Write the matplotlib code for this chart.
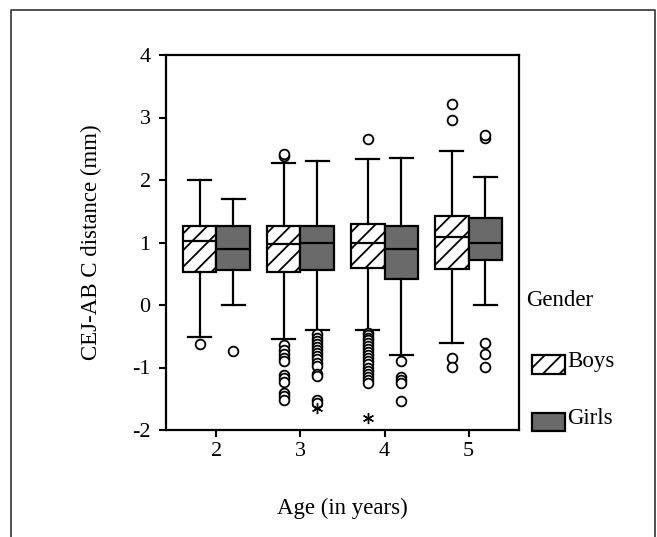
import numpy as np
import matplotlib
matplotlib.use("Agg")
from matplotlib import pyplot as plt
from matplotlib.patches import Rectangle
from matplotlib.lines import Line2D

plt.rcParams['font.family'] = ['Liberation Serif', 'DejaVu Serif']
plt.rcParams['hatch.linewidth'] = 1.3

ages = ['2', '3', '4', '5']

# boys boxes (mm)
boys_q1 = [0.53, 0.53, 0.60, 0.58]
boys_med = [1.03, 0.97, 1.00, 1.09]
boys_q3 = [1.26, 1.26, 1.29, 1.43]
boys_lo = [-0.51, -0.54, -0.40, -0.61]
boys_hi = [2.00, 2.28, 2.33, 2.46]
boys_out = [
    [-0.62],
    [2.38, 2.42, -0.64, -0.72, -0.78, -0.84, -0.90, -1.12, -1.17, -1.23, -1.40, -1.46, -1.52],
    [2.66, -0.44, -0.48, -0.52, -0.56, -0.60, -0.65, -0.70, -0.75, -0.80, -0.85, -0.90,
     -0.95, -1.00, -1.05, -1.10, -1.15, -1.20, -1.25],
    [3.21, 2.96, -0.84, -0.99],
]
boys_ext = [[], [], [-1.81], []]

# girls boxes (mm)
girls_q1 = [0.56, 0.56, 0.42, 0.72]
girls_med = [0.90, 1.00, 0.90, 1.00]
girls_q3 = [1.26, 1.26, 1.26, 1.39]
girls_lo = [0.00, -0.40, -0.80, 0.00]
girls_hi = [1.70, 2.30, 2.36, 2.05]
girls_out = [
    [-0.73],
    [-0.47, -0.52, -0.57, -0.62, -0.67, -0.72, -0.77, -0.82, -0.87, -0.92, -0.97,
     -1.10, -1.13, -1.52, -1.56],
    [-0.90, -1.15, -1.20, -1.25, -1.54],
    [2.68, 2.72, -0.60, -0.78, -0.99],
]
girls_ext = [[], [-1.65], [], []]


def make_stats(q1, med, q3, lo, hi, out):
    st = []
    for i in range(len(q1)):
        st.append({'q1': q1[i], 'med': med[i], 'q3': q3[i], 'whislo': lo[i],
                   'whishi': hi[i], 'fliers': out[i]})
    return st


fig = plt.figure(figsize=(6.57, 5.37), dpi=100)
ax = fig.add_axes([166/657, 1-430/537, (519-166)/657, (430-55)/537])

x = np.arange(len(ages))
w = 0.4
flier = dict(marker='o', markersize=7, markerfacecolor='white',
             markeredgecolor='black', markeredgewidth=1.3, linestyle='none')
lines = dict(color='black', linewidth=1.6)

ax.bxp(make_stats(boys_q1, boys_med, boys_q3, boys_lo, boys_hi, boys_out),
       positions=x - w/2, widths=w, capwidths=0.27, patch_artist=True,
       flierprops=flier, boxprops=dict(facecolor='white', edgecolor='black', linewidth=1.6, hatch='//'),
       medianprops=lines, whiskerprops=lines, capprops=lines)
ax.bxp(make_stats(girls_q1, girls_med, girls_q3, girls_lo, girls_hi, girls_out),
       positions=x + w/2, widths=w, capwidths=0.27, patch_artist=True,
       flierprops=flier, boxprops=dict(facecolor='#6a6a6a', edgecolor='black', linewidth=1.6),
       medianprops=lines, whiskerprops=lines, capprops=lines)

# extreme values (asterisks)
for i in range(len(ages)):
    if boys_ext[i]:
        ax.plot([x[i] - w/2]*len(boys_ext[i]), boys_ext[i], linestyle='none',
                marker=(6, 2, 0), markersize=8, color='black', markeredgewidth=1)
    if girls_ext[i]:
        ax.plot([x[i] + w/2]*len(girls_ext[i]), girls_ext[i], linestyle='none',
                marker=(6, 2, 0), markersize=8, color='black', markeredgewidth=1)

ax.set_xlim(-0.6, 3.6)
ax.set_ylim(-2, 4)
ax.set_xticks(x)
ax.set_xticklabels(ages)
ax.set_yticks([-2, -1, 0, 1, 2, 3, 4])
ax.set_yticklabels(['-2', '-1', '0', '1', '2', '3', '4'])
ax.tick_params(labelsize=16, length=5, width=1.5, direction='out')
ax.tick_params(axis='y', pad=6)
for s in ax.spines.values():
    s.set_linewidth(1.6)
ax.set_ylabel('CEJ-AB C distance (mm)', fontsize=16.5, labelpad=22)
ax.set_xlabel('Age (in years)', fontsize=16.5, labelpad=27)

# legend on the right
fig.text(526/657, 1-300/537, 'Gender', fontsize=16.5, va='center', ha='left')
fig.add_artist(Rectangle((532/657, 1-374/537), 33/657, 19/537, transform=fig.transFigure,
                         facecolor='white', edgecolor='black', linewidth=1.6, hatch='//'))
fig.text(567/657, 1-362/537, 'Boys', fontsize=16.5, va='center', ha='left')
fig.add_artist(Rectangle((532/657, 1-431/537), 33/657, 18/537, transform=fig.transFigure,
                         facecolor='#6a6a6a', edgecolor='black', linewidth=1.6))
fig.text(567/657, 1-418/537, 'Girls', fontsize=16.5, va='center', ha='left')

# outer frame
fig.add_artist(Line2D([11/657, 11/657, 655/657, 655/657], [0, 1-10/537, 1-10/537, 0],
                      transform=fig.transFigure, color='#333333', linewidth=1.2))

fig.savefig('out.png', dpi=100, facecolor='white')
